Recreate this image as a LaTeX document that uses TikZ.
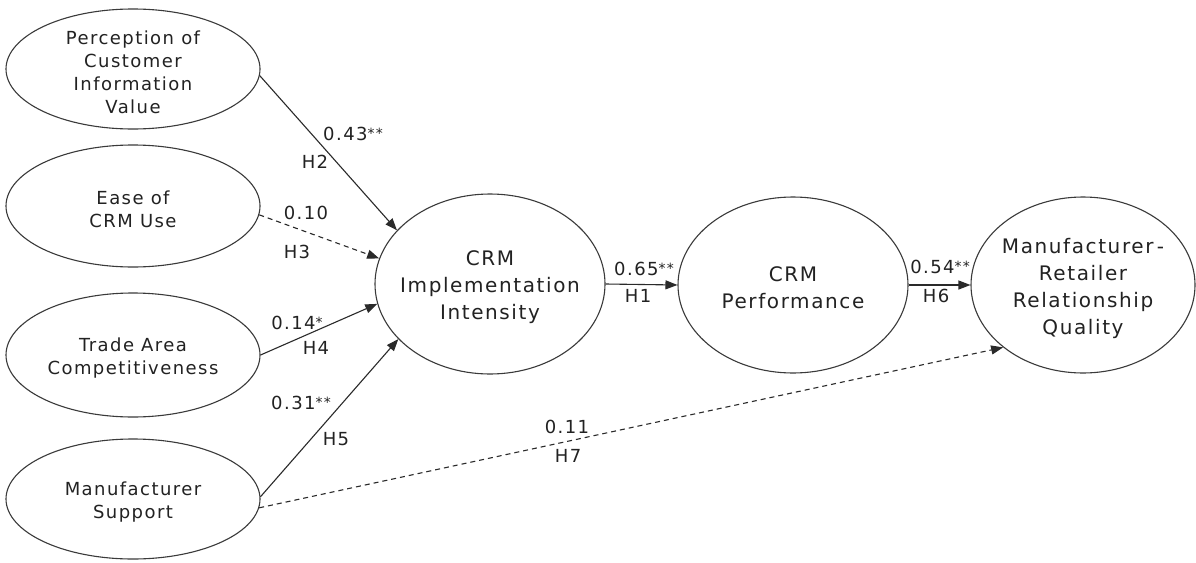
\documentclass[tikz,border=0pt]{standalone}
\usepackage{fontspec}
\setmainfont[LetterSpace=8]{DejaVu Sans}
\usetikzlibrary{arrows.meta,shapes.geometric}
\definecolor{ln}{HTML}{2A2A2A}
\definecolor{el}{HTML}{3A3A3A}
\definecolor{tx}{HTML}{222222}
\newcommand{\sig}[1]{\raisebox{2pt}{\fontsize{14}{14}\selectfont #1}}
\begin{document}
\begin{tikzpicture}[x=1pt,y=-1pt,
  lat/.style={draw=el,line width=1.1pt,ellipse,inner sep=0pt},
  smalltxt/.style={align=center,text=tx,font=\fontsize{18}{23}\selectfont,inner sep=0pt,yshift=-3pt},
  bigtxt/.style={align=center,text=tx,font=\fontsize{20}{27}\selectfont,inner sep=0pt,yshift=-3pt},
  conn/.style={draw=ln,line width=1.1pt,-{Triangle[length=12pt,width=9pt]}},
  dconn/.style={conn,dash pattern=on 5pt off 4pt},
  coef/.style={text=tx,font=\fontsize{18}{20}\selectfont,inner sep=0pt}
]
\useasboundingbox (0,0) rectangle (1196,562);
\fill[white] (0,0) rectangle (1196,562);

% exogenous constructs
\node[lat,minimum width=254pt,minimum height=120pt,
  label={[smalltxt]center:Perception of\\Customer\\Information\\Value}] (pciv) at (133,69) {};
\node[lat,minimum width=254pt,minimum height=122pt,
  label={[smalltxt]center:Ease of\\CRM Use}] (ecu) at (133,206) {};
\node[lat,minimum width=254pt,minimum height=124pt,
  label={[smalltxt]center:Trade Area\\Competitiveness}] (tac) at (133,355) {};
\node[lat,minimum width=254pt,minimum height=120pt,
  label={[smalltxt]center:Manufacturer\\Support}] (ms) at (133,499) {};

% endogenous constructs
\node[lat,minimum width=230pt,minimum height=180pt,
  label={[bigtxt]center:CRM\\Implementation\\Intensity}] (cii) at (490,284) {};
\node[lat,minimum width=230pt,minimum height=176pt,
  label={[bigtxt]center:CRM\\Performance}] (cp) at (793,285) {};
\node[lat,minimum width=224pt,minimum height=176pt,
  label={[bigtxt]center:Manufacturer\thinspace-\\Retailer\\Relationship\\Quality}] (mrq) at (1083,285) {};

% paths
\draw[conn]  (pciv.-3) -- (cii.150);
\draw[dconn] (ecu.-4)  -- (cii.167);
\draw[conn]  (tac.east) -- (cii.190);
\draw[conn]  (ms.1)    -- (cii.211);
\draw[conn]  (cii.east) -- (cp.west);
\draw[conn]  (cp.east)  -- (mrq.west);
\draw[dconn] (ms.-4)   -- (mrq.218);

% coefficients
\node[coef] (c2) at (353,134) {0.43\sig{**}};
\node[coef] (h2) at (315,162) {H2};
\node[coef] (c3) at (306,213) {0.10};
\node[coef] (h3) at (297,252) {H3};
\node[coef] (c4) at (297,323) {0.14\sig{*}};
\node[coef] (h4) at (316,348) {H4};
\node[coef] (c5) at (301,403) {0.31\sig{**}};
\node[coef] (h5) at (336,439) {H5};
\node[coef] (c1) at (644,269) {0.65\sig{**}};
\node[coef] (h1) at (638,296) {H1};
\node[coef] (c6) at (940,267) {0.54\sig{**}};
\node[coef] (h6) at (936,296) {H6};
\node[coef] (c7) at (567,427) {0.11};
\node[coef] (h7) at (568,456) {H7};
\end{tikzpicture}
\end{document}
